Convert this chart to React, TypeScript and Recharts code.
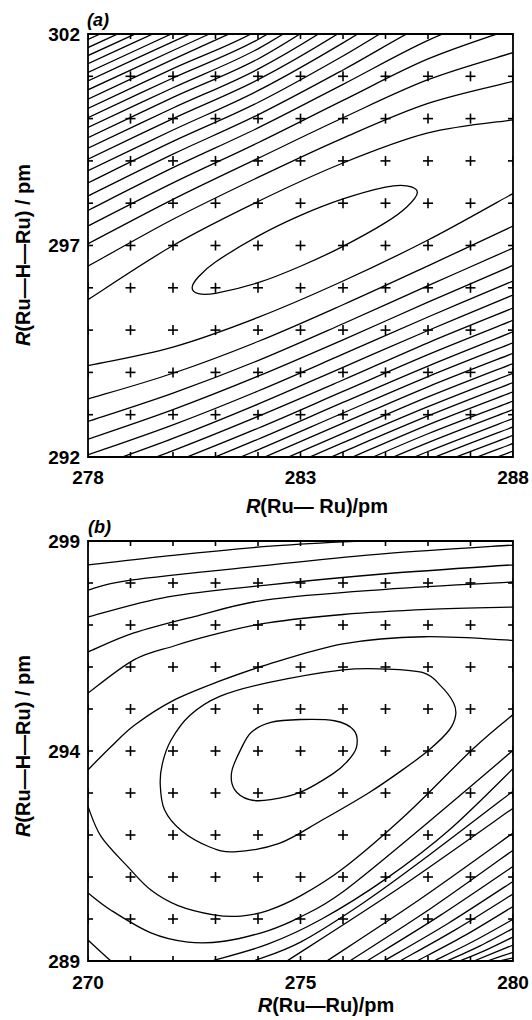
import React from "react";
import { ComposedChart, Line, Scatter, XAxis, YAxis, ReferenceArea } from "recharts";

// ---------- panel (a): R(Ru-Ru) 278-288, R(Ru-H-Ru) 292-302 ----------
const aCols = [278, 280, 282, 284, 286, 288];

// contours above the valley, y read at aCols (lines leave through top / right)
const aUpper: number[][] = [
  [295.72, 297.0, 298.04, 298.95, 299.66, 299.97],
  [296.51, 297.62, 298.61, 299.54, 300.36, 300.88],
  [297.04, 298.09, 299.06, 300.02, 300.92, 301.56],
  [297.46, 298.48, 299.43, 300.43, 301.41, 302.13],
  [297.83, 298.84, 299.78, 300.81, 301.85, 302.66],
  [298.17, 299.16, 300.09, 301.15, 302.27, 303.16],
  [298.48, 299.46, 300.38, 301.48, 302.67, 303.63],
  [298.77, 299.73, 300.66, 301.79, 303.05],
  [299.04, 300.0, 300.92, 302.08, 303.42],
  [299.3, 300.25, 301.17, 302.37, 303.78],
  [299.55, 300.5, 301.41, 302.65],
  [299.79, 300.73, 301.65, 302.91],
  [300.02, 300.96, 301.87, 303.18],
  [300.24, 301.18, 302.09, 303.44],
  [300.46, 301.4, 302.31],
  [300.68, 301.61, 302.52],
  [300.89, 301.82, 302.72],
  [301.09, 302.02, 302.93],
  [301.3, 302.22],
  [301.49, 302.41],
  [301.68, 302.6],
  [301.87, 302.79],
];

// contours below the valley (lines enter through left / bottom)
const aLower: (number | null)[][] = [
  [294.16, 294.6, 295.3, 296.16, 297.13, 298.23],
  [293.37, 293.98, 294.73, 295.6, 296.52, 297.46],
  [292.84, 293.51, 294.28, 295.15, 296.05, 296.94],
  [292.42, 293.12, 293.91, 294.77, 295.66, 296.53],
  [292.05, 292.76, 293.56, 294.43, 295.31, 296.16],
  [291.71, 292.44, 293.25, 294.12, 294.99, 295.83],
  [291.4, 292.15, 292.96, 293.82, 294.7, 295.52],
  [291.11, 291.87, 292.68, 293.55, 294.42, 295.23],
  [290.84, 291.6, 292.42, 293.29, 294.15, 294.96],
  [290.58, 291.35, 292.17, 293.04, 293.9, 294.7],
  [null, 291.1, 291.93, 292.8, 293.66, 294.45],
  [null, 290.87, 291.69, 292.56, 293.42, 294.21],
  [null, 290.64, 291.47, 292.34, 293.19, 293.98],
  [null, 290.42, 291.25, 292.12, 292.97, 293.76],
  [null, 290.2, 291.03, 291.9, 292.76, 293.54],
  [null, null, 290.82, 291.69, 292.55, 293.32],
  [null, null, 290.62, 291.49, 292.34, 293.12],
  [null, null, 290.41, 291.28, 292.13, 292.91],
  [null, null, 290.22, 291.08, 291.93, 292.71],
  [null, null, null, 290.89, 291.74, 292.51],
  [null, null, null, 290.71, 291.55, 292.32],
  [null, null, null, 290.52, 291.37, 292.14],
];

// innermost closed contour
const aLoop = [
  [283, 297.71], [284, 298.1], [285, 298.38], [285.5, 298.41], [285.75, 298.26],
  [285.5, 297.91], [285, 297.54], [284, 296.98], [283, 296.51], [282, 296.12],
  [281, 295.87], [280.6, 295.86], [280.45, 296.0], [280.6, 296.26], [281, 296.61],
  [282, 297.22], [283, 297.71],
];

const aGridX = [278, 279, 280, 281, 282, 283, 284, 285, 286, 287, 288];
const aGridY = [292, 293, 294, 295, 296, 297, 298, 299, 300, 301, 302];
const aTicksX = [278, 283, 288];
const aTicksY = [292, 297, 302];

// ---------- panel (b): R(Ru-Ru) 270-280, R(Ru-H-Ru) 289-299 ----------
const bLoops = [
  [
    [275.0, 294.75], [275.8, 294.72], [276.25, 294.5], [276.32, 294.1], [276.1, 293.75],
    [275.75, 293.45], [275.0, 293.02], [274.3, 292.84], [273.8, 292.84], [273.45, 293.08],
    [273.38, 293.5], [273.6, 294.05], [273.85, 294.45], [274.3, 294.68], [275.0, 294.75],
  ],
  [
    [276.0, 295.93], [277.0, 295.95], [277.9, 295.86], [278.3, 295.55], [278.6, 295.15],
    [278.65, 294.85], [278.5, 294.5], [278.05, 294.05], [277.4, 293.55], [276.6, 293.0],
    [275.5, 292.35], [274.5, 291.8], [273.44, 291.6], [272.85, 291.72], [272.2, 292.1],
    [271.8, 292.6], [271.7, 293.2], [271.75, 293.7], [271.95, 294.25], [272.4, 294.85],
    [273.1, 295.3], [274.21, 295.62], [276.0, 295.93],
  ],
];

const bOpen = [
  [[269.9, 293.45], [270.54, 294.1], [271.1, 294.62], [272.0, 295.2], [273.06, 295.65], [274.2, 296.05], [276.0, 296.55], [277.9, 296.72], [280.1, 296.63]],
  [[269.95, 292.8], [270.0, 292.67], [270.31, 291.96], [270.94, 291.24], [271.48, 290.69], [272.12, 290.32], [272.96, 290.1], [273.6, 290.07], [274.23, 290.2], [275.0, 290.55], [276.0, 291.2], [277.5, 292.5], [279.08, 294.07], [280.1, 294.95]],
  [[269.9, 295.3], [270.0, 295.38], [271.08, 296.17], [272.02, 296.5], [273.0, 296.78], [274.23, 297.05], [276.0, 297.25], [278.0, 297.37], [280.1, 297.43]],
  [[269.9, 290.7], [270.0, 290.62], [270.54, 290.21], [271.48, 289.67], [272.35, 289.45], [273.2, 289.47], [274.23, 289.72], [275.0, 290.05], [276.0, 290.65], [278.0, 292.3], [280.1, 294.1]],
  [[269.9, 296.32], [270.0, 296.36], [271.08, 296.81], [272.5, 297.2], [274.2, 297.6], [277.0, 297.85], [280.1, 298.03]],
  [[269.9, 289.6], [270.0, 289.5], [270.54, 289.0], [270.8, 288.8]],
  [[272.6, 288.92], [272.9, 289.0], [274.23, 289.4], [275.5, 290.0], [277.0, 290.95], [278.5, 292.12], [280.1, 293.68]],
  [[269.9, 297.15], [270.0, 297.19], [271.88, 297.67], [274.2, 297.95], [277.0, 298.22], [280.1, 298.44]],
  [[273.7, 288.93], [273.9, 289.0], [275.0, 289.45], [276.5, 290.4], [278.0, 291.5], [280.1, 293.12]],
  [[269.9, 297.8], [270.0, 297.83], [271.0, 298.07], [274.2, 298.42], [277.0, 298.7], [280.1, 298.91]],
  [[269.9, 298.42], [270.0, 298.43], [272.0, 298.66], [274.2, 298.87], [276.0, 298.98], [278.0, 299.06], [280.1, 299.12]],
  [[274.68, 289], [277.34, 290.75], [280.1, 292.71]],
  [[275.62, 289], [277.81, 290.47], [280.1, 292.12]],
  [[276.16, 289], [278.08, 290.26], [280.1, 291.71]],
  [[276.56, 289], [278.28, 290.08], [280.1, 291.32]],
  [[276.96, 289], [278.48, 289.9], [280.1, 290.96]],
  [[277.34, 289], [278.67, 289.76], [280.1, 290.66]],
  [[277.74, 289], [278.87, 289.61], [280.1, 290.36]],
  [[278.14, 289], [279.07, 289.47], [280.1, 290.05]],
  [[278.45, 289], [279.225, 289.36], [280.1, 289.83]],
  [[278.75, 289], [279.375, 289.265], [280.1, 289.62]],
  [[279.08, 289], [280.1, 289.42]],
  [[279.39, 289], [280.1, 289.24]],
  [[279.69, 289], [280.1, 289.1]],
];

const bGridX = [270, 271, 272, 273, 274, 275, 276, 277, 278, 279, 280];
const bGridY = [289, 290, 291, 292, 293, 294, 295, 296, 297, 298, 299];
const bTicksX = [270, 275, 280];
const bTicksY = [289, 294, 299];

// ---------- helpers ----------
const font = "'Liberation Sans', Arial, sans-serif";

const fromCols = (cols: number[], ys: (number | null)[]) =>
  ys.map((y, i) => (y == null ? null : { x: cols[i], y })).filter(Boolean) as { x: number; y: number }[];

const fromPairs = (pairs: number[][]) => pairs.map(([x, y]) => ({ x, y }));

const grid = (xs: number[], ys: number[]) => xs.flatMap((x) => ys.map((y) => ({ x, y })));

// catmull-rom through the points; closes itself when first == last
function smooth(context: any) {
  let pts: number[][] = [];
  return {
    areaStart() {},
    areaEnd() {},
    lineStart() {
      pts = [];
    },
    point(x: number, y: number) {
      pts.push([+x, +y]);
    },
    lineEnd() {
      const n = pts.length;
      if (!n) return;
      const closed =
        n > 3 && Math.abs(pts[0][0] - pts[n - 1][0]) < 0.01 && Math.abs(pts[0][1] - pts[n - 1][1]) < 0.01;
      const P = closed ? pts.slice(0, n - 1) : pts;
      const m = P.length;
      const at = (i: number) => (closed ? P[(i + m) % m] : P[Math.max(0, Math.min(m - 1, i))]);
      context.moveTo(P[0][0], P[0][1]);
      const segs = closed ? m : m - 1;
      for (let i = 0; i < segs; i++) {
        const p0 = at(i - 1), p1 = at(i), p2 = at(i + 1), p3 = at(i + 2);
        context.bezierCurveTo(
          p1[0] + (p2[0] - p0[0]) / 6,
          p1[1] + (p2[1] - p0[1]) / 6,
          p2[0] - (p3[0] - p1[0]) / 6,
          p2[1] - (p3[1] - p1[1]) / 6,
          p2[0],
          p2[1]
        );
      }
      if (closed) context.closePath();
    },
  };
}

const Cross = (props: any) => {
  const { cx, cy } = props;
  if (cx == null || cy == null) return null;
  return (
    <g stroke="#000" strokeWidth={1.6}>
      <line x1={cx - 5} y1={cy} x2={cx + 5} y2={cy} />
      <line x1={cx} y1={cy - 5} x2={cx} y2={cy + 5} />
    </g>
  );
};

function Panel({ contours, points, xDomain, yDomain, xTicks, yTicks, height, xMargin }: any) {
  const tickStyle = { fontSize: 19, fill: "#000", fontFamily: font, fontWeight: "bold" };
  return (
    <ComposedChart width={532} height={height} margin={{ top: 34, right: 19, bottom: 0, left: 28 }}>
      <XAxis
        dataKey="x"
        type="number"
        domain={xDomain}
        allowDataOverflow
        ticks={xTicks}
        tickLine={false}
        axisLine={false}
        tick={tickStyle}
        tickMargin={xMargin}
        height={43}
      />
      <YAxis
        dataKey="y"
        type="number"
        domain={yDomain}
        allowDataOverflow
        ticks={yTicks}
        tickLine={false}
        axisLine={false}
        tick={tickStyle}
        tickMargin={2}
        width={60}
      />
      {contours.map((c: any, i: number) => (
        <Line
          key={i}
          data={c}
          dataKey="y"
          type={smooth as any}
          dot={false}
          activeDot={false}
          stroke="#000"
          strokeWidth={1.3}
          isAnimationActive={false}
        />
      ))}
      <Scatter data={points} dataKey="y" shape={Cross} isAnimationActive={false} />
      <ReferenceArea
        x1={xDomain[0]}
        x2={xDomain[1]}
        y1={yDomain[0]}
        y2={yDomain[1]}
        fill="none"
        fillOpacity={0}
        stroke="#000"
        strokeWidth={1.8}
        ifOverflow="visible"
      />
    </ComposedChart>
  );
}

export default function App() {
  const aContours = [
    fromPairs(aLoop),
    ...aUpper.map((ys) => fromCols(aCols, ys)),
    ...aLower.map((ys) => fromCols(aCols, ys)),
  ];
  const bContours = [...bLoops.map(fromPairs), ...bOpen.map(fromPairs)];

  return (
    <div style={{ position: "absolute", left: 0, top: 0, width: 532, height: 1020, background: "#fff" }}>
      <div style={{ position: "absolute", left: 0, top: 0 }}>
        <Panel
          contours={aContours}
          points={grid(aGridX, aGridY)}
          xDomain={[278, 288]}
          yDomain={[292, 302]}
          xTicks={aTicksX}
          yTicks={aTicksY}
          height={500}
          xMargin={8}
        />
      </div>
      <div style={{ position: "absolute", left: 0, top: 507 }}>
        <Panel
          contours={bContours}
          points={grid(bGridX, bGridY)}
          xDomain={[270, 280]}
          yDomain={[289, 299]}
          xTicks={bTicksX}
          yTicks={bTicksY}
          height={497}
          xMargin={9}
        />
      </div>
      <svg
        width={532}
        height={1020}
        style={{ position: "absolute", left: 0, top: 0, pointerEvents: "none" }}
        fontFamily={font}
        fontWeight="bold"
        fill="#000"
      >
        <text x={87} y={26} fontSize={18} fontStyle="italic">(a)</text>
        <text x={317} y={513} fontSize={20} textAnchor="middle">
          <tspan fontStyle="italic">R</tspan>(Ru— Ru)/pm
        </text>
        <text transform="translate(30,255) rotate(-90)" fontSize={20} textAnchor="middle">
          <tspan fontStyle="italic">R</tspan>(Ru—H—Ru) / pm
        </text>
        <text x={88} y={533} fontSize={18} fontStyle="italic">(b)</text>
        <text x={326} y={1012} fontSize={20} textAnchor="middle">
          <tspan fontStyle="italic">R</tspan>(Ru—Ru)/pm
        </text>
        <text transform="translate(30,746) rotate(-90)" fontSize={20} textAnchor="middle">
          <tspan fontStyle="italic">R</tspan>(Ru—H—Ru) / pm
        </text>
      </svg>
    </div>
  );
}
